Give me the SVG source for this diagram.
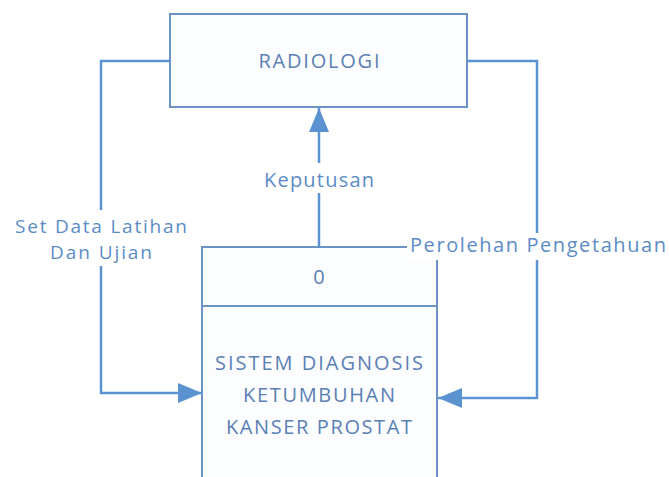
<svg xmlns="http://www.w3.org/2000/svg" width="669" height="477" viewBox="0 0 669 477">
  <defs>
    <style>
      .box { fill: #fcfdfe; stroke: #6b93c3; stroke-width: 2; }
      .flow { fill: none; stroke: #5b93d0; stroke-width: 2.5; }
      .lbl { font-family: "Open Sans", "Noto Sans", sans-serif; font-size: 20px; fill: #5b8cc6; text-anchor: middle; }
      .lbl2 { font-size: 19px; }
      .nodetxt { font-family: "Open Sans", "Noto Sans", sans-serif; font-size: 20px; fill: #5a80b4; text-anchor: middle; }
      .mask { fill: #ffffff; }
    </style>
    <marker id="head" viewBox="0 0 24 20" refX="24" refY="10" markerWidth="24" markerHeight="20" markerUnits="userSpaceOnUse" orient="auto">
      <path d="M0,0 L24,10 L0,20 Z" fill="#5b93d0"/>
    </marker>
  </defs>

  <rect width="669" height="477" fill="#ffffff"/>

  <!-- external entity -->
  <g id="radiologi">
    <rect class="box" x="170" y="14" width="297" height="93"/>
    <text class="nodetxt" x="319" y="68" textLength="121" lengthAdjust="spacing">RADIOLOGI</text>
  </g>

  <!-- process 0 (open at the bottom) -->
  <g id="sistem">
    <rect x="202" y="247" width="235" height="240" fill="#fcfdfe"/>
    <path class="box" d="M202,487 V247 H437 V487" fill="none"/>
    <line x1="202" y1="306" x2="437" y2="306" stroke="#6b93c3" stroke-width="2"/>
    <text class="nodetxt" x="319" y="284">0</text>
    <text class="nodetxt" x="319" y="370" textLength="208" lengthAdjust="spacing">SISTEM DIAGNOSIS</text>
    <text class="nodetxt" x="319" y="402" textLength="152" lengthAdjust="spacing">KETUMBUHAN</text>
    <text class="nodetxt" x="319" y="434" textLength="186" lengthAdjust="spacing">KANSER PROSTAT</text>
  </g>

  <!-- data flows -->
  <g id="connectors">
    <path class="flow" d="M170,61 H101 V393 H202" marker-end="url(#head)"/>
    <path class="flow" d="M467,61 H537 V398 H438" marker-end="url(#head)"/>
    <path class="flow" d="M319,247 V108" marker-end="url(#head)"/>

    <rect class="mask" x="12" y="210" width="178" height="56"/>
    <text class="lbl lbl2" x="101" y="233" textLength="172" lengthAdjust="spacing">Set Data Latihan</text>
    <text class="lbl lbl2" x="101" y="259" textLength="102" lengthAdjust="spacing">Dan Ujian</text>

    <rect class="mask" x="407" y="233" width="262" height="27"/>
    <text class="lbl" x="538" y="252" textLength="256" lengthAdjust="spacing">Perolehan Pengetahuan</text>

    <rect class="mask" x="258" y="163" width="122" height="30"/>
    <text class="lbl" x="319" y="187" textLength="110" lengthAdjust="spacing">Keputusan</text>
  </g>
</svg>
